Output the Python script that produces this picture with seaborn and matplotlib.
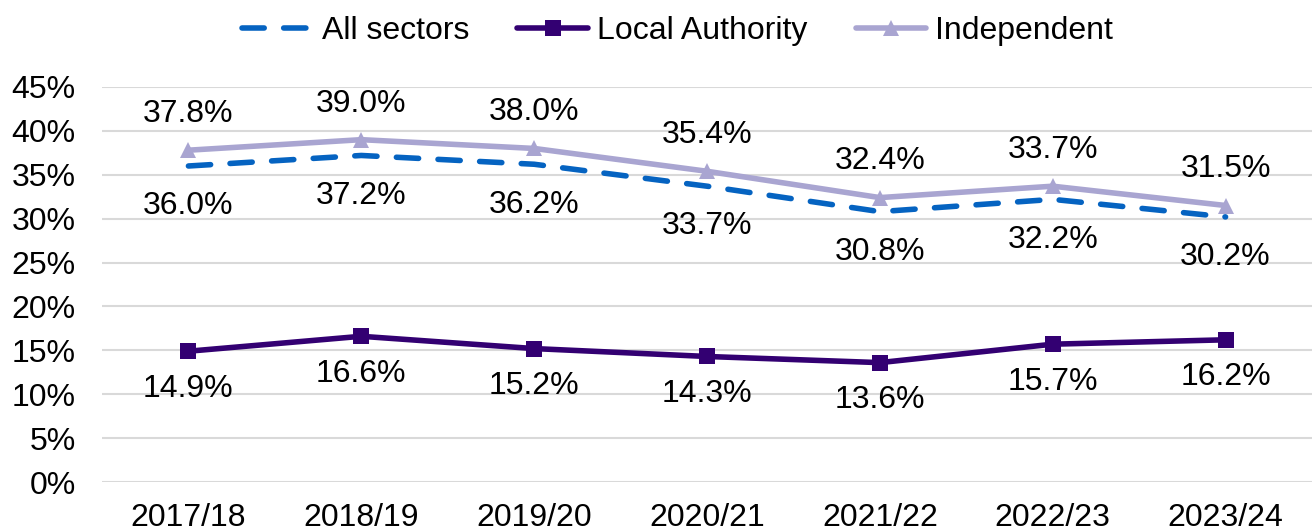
import matplotlib
matplotlib.use('Agg')
import matplotlib.pyplot as plt
import pandas as pd
import seaborn as sns

years = ['2017/18', '2018/19', '2019/20', '2020/21', '2021/22', '2022/23', '2023/24']
all_sectors = [36.0, 37.2, 36.2, 33.7, 30.8, 32.2, 30.2]
local_authority = [14.9, 16.6, 15.2, 14.3, 13.6, 15.7, 16.2]
independent = [37.8, 39.0, 38.0, 35.4, 32.4, 33.7, 31.5]

sns.set_theme(style='white')
plt.rcParams['font.family'] = ['Liberation Sans', 'DejaVu Sans']
plt.rcParams['text.color'] = 'black'
plt.rcParams['xtick.color'] = 'black'
plt.rcParams['ytick.color'] = 'black'

df = pd.DataFrame({'year': years, 'All sectors': all_sectors,
                   'Local Authority': local_authority,
                   'Independent': independent})
df['pos'] = range(len(years))

fig = plt.figure(figsize=(13.12, 5.31), dpi=100)
ax = fig.add_axes([102 / 1312, 1 - 482 / 531, 1210 / 1312, 395 / 531])

sns.lineplot(data=df, x='pos', y='All sectors', ax=ax, color='#0563C1',
             lw=4, label='All sectors', zorder=3)
ax.lines[-1].set_dashes([4, 3.5])
ax.lines[-1].set_dash_capstyle('round')
sns.lineplot(data=df, x='pos', y='Local Authority', ax=ax, color='#330072',
             lw=4, marker='s', markersize=11, markeredgewidth=0,
             label='Local Authority', zorder=4)
sns.lineplot(data=df, x='pos', y='Independent', ax=ax, color='#A9A5D1',
             lw=4, marker='^', markersize=12, markeredgewidth=0,
             label='Independent', zorder=2)

fs = 23
for i in df['pos']:
    ax.annotate(f'{independent[i]:.1f}%', (i, independent[i]), xytext=(0, 26),
                textcoords='offset points', ha='center', va='center', fontsize=fs)
    ax.annotate(f'{all_sectors[i]:.1f}%', (i, all_sectors[i]), xytext=(0, -29),
                textcoords='offset points', ha='center', va='center', fontsize=fs)
    ax.annotate(f'{local_authority[i]:.1f}%', (i, local_authority[i]), xytext=(0, -27),
                textcoords='offset points', ha='center', va='center', fontsize=fs)

ax.set_xlim(-0.5, len(years) - 0.5)
ax.set_ylim(0, 45)
ax.set_yticks(range(0, 46, 5))
ax.set_yticklabels([f'{v}%' for v in range(0, 46, 5)], fontsize=fs)
ax.set_xticks(df['pos'])
ax.set_xticklabels(years, fontsize=fs)
ax.tick_params(axis='x', pad=15, length=0)
ax.tick_params(axis='y', pad=19, length=0)
ax.set_xlabel('')
ax.set_ylabel('')
ax.grid(axis='y', color='#D9D9D9', lw=1.5)
ax.set_axisbelow(True)
for s in ax.spines.values():
    s.set_visible(False)

ax.legend(loc='center', bbox_to_anchor=(0.5 - 102 / 2 / 1210 + 0.018, (482 - 31) / 395),
          ncol=3, frameon=False, fontsize=fs, handlelength=2.2,
          handletextpad=0.3, columnspacing=1.5)

fig.savefig('out.png', dpi=100)
